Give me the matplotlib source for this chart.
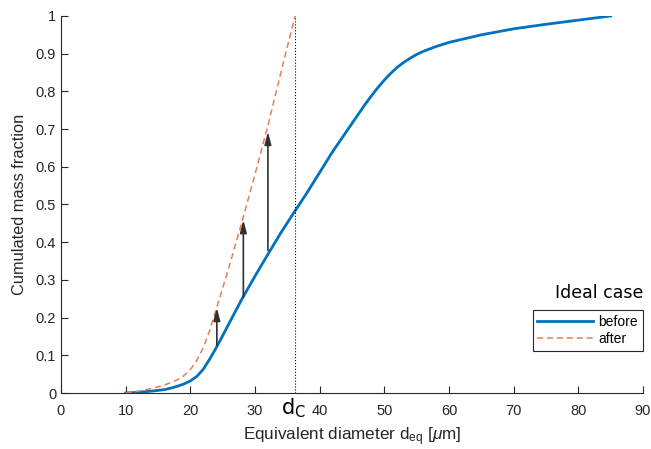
import matplotlib
matplotlib.use('Agg')
import matplotlib.pyplot as plt
import matplotlib.transforms as mtransforms

# Particle size distribution, before and after
before_d = [10, 12, 14, 16, 17, 18, 19, 20, 21, 22, 23, 24, 25, 26, 28, 30, 32,
            34, 36, 38, 40, 42, 44, 46, 47, 48, 49, 50, 51, 52, 53, 54, 55, 56,
            58, 60, 62, 65, 70, 75, 80, 85]
before_frac = [0, 0.002, 0.005, 0.009, 0.013, 0.018, 0.024, 0.032, 0.044, 0.063,
               0.09, 0.12, 0.152, 0.185, 0.25, 0.31, 0.368, 0.425, 0.478, 0.53,
               0.585, 0.64, 0.69, 0.74, 0.765, 0.788, 0.81, 0.83, 0.848, 0.864,
               0.877, 0.888, 0.898, 0.906, 0.919, 0.93, 0.938, 0.95, 0.966,
               0.978, 0.989, 1.0]

after_d = [10, 12, 14, 16, 18, 19, 20, 21, 22, 23, 24, 26, 28, 30, 32, 34, 36.2]
after_frac = [0, 0.005, 0.012, 0.021, 0.035, 0.046, 0.062, 0.086, 0.12, 0.166,
              0.222, 0.335, 0.455, 0.58, 0.71, 0.85, 1.0]

d_cut = 36.2

# shift arrows: x, start, end
arrow_x = [24.1, 28.2, 32.0]
arrow_from = [0.127, 0.254, 0.378]
arrow_to = [0.226, 0.459, 0.693]

xticks = list(range(0, 100, 10))
yticks = [0, 0.1, 0.2, 0.3, 0.4, 0.5, 0.6, 0.7, 0.8, 0.9, 1]
ytick_labels = ['0', '0.1', '0.2', '0.3', '0.4', '0.5', '0.6', '0.7', '0.8', '0.9', '1']

plt.rcParams['font.family'] = ['Liberation Sans', 'DejaVu Sans']
plt.rcParams['mathtext.fontset'] = 'custom'
plt.rcParams['mathtext.rm'] = 'Liberation Sans'
plt.rcParams['mathtext.it'] = 'Liberation Sans:italic'

dark = '#262626'
blue = '#0072BD'
orange = '#E57E5A'

fig = plt.figure(figsize=(6.51, 4.49), dpi=100)
ax = fig.add_axes([0.0937, 0.1247, 0.894, 0.8397])

ax.plot(before_d, before_frac, color=blue, lw=2, label='before')
ax.plot(after_d, after_frac, color=orange, lw=1.1, ls=(0, (4, 2.5)), label='after')
ax.plot([d_cut, d_cut], [0, 1], color='black', lw=0.8, ls=':')

for x, y0, y1 in zip(arrow_x, arrow_from, arrow_to):
    ax.annotate('', xy=(x, y1), xytext=(x, y0),
                arrowprops=dict(arrowstyle='-|>,head_length=0.75,head_width=0.2',
                                color='#303030', lw=1.2, shrinkA=0, shrinkB=0))

ax.set_xlim(0, 90)
ax.set_ylim(0, 1)
ax.set_xticks(xticks)
ax.set_yticks(yticks)
ax.set_yticklabels(ytick_labels)
ax.tick_params(direction='in', length=5, width=0.8, colors=dark, labelsize=10.5)
ax.tick_params(axis='x', pad=8)
for s in ['top', 'right']:
    ax.spines[s].set_visible(False)
for s in ['left', 'bottom']:
    ax.spines[s].set_color(dark)
    ax.spines[s].set_linewidth(0.8)

ax.set_xlabel(r'Equivalent diameter d$_\mathregular{eq}$ [$\mathit{\mu}$m]',
              fontsize=12.3, color=dark, labelpad=5)
ax.set_ylabel('Cumulated mass fraction', fontsize=11.8, color=dark, labelpad=6)

trans = mtransforms.blended_transform_factory(ax.transData, ax.transAxes)
ax.text(d_cut - 0.3, -0.04, r'd$_\mathregular{C}$', transform=trans, fontsize=15,
        family='DejaVu Sans', ha='center', va='center', color='black')

leg = ax.legend(loc='lower right', bbox_to_anchor=(1.0, 0.111), fontsize=10,
                handlelength=4.0, handletextpad=0.4, borderpad=0.35,
                borderaxespad=0, labelspacing=0.25, fancybox=False,
                edgecolor=dark, framealpha=1)
leg.get_frame().set_linewidth(0.8)
ax.text(1.0, 0.265, 'Ideal case', transform=ax.transAxes, fontsize=12.5,
        family='DejaVu Sans', ha='right', va='center', color='black')

fig.savefig('out.png', dpi=100)
